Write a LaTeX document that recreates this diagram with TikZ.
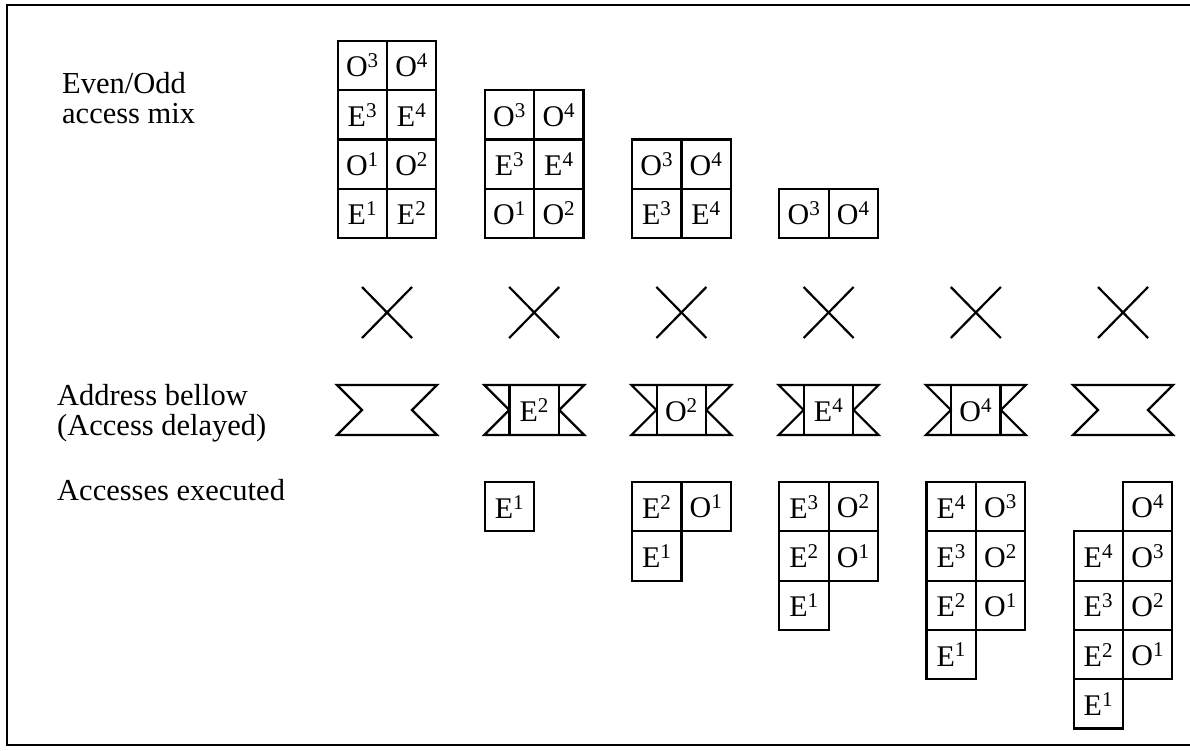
\documentclass[tikz,border=0pt]{standalone}
\usepackage{fontspec}
\setmainfont{Liberation Serif}
\usetikzlibrary{positioning}
\tikzset{cell/.style={draw,line width=2.2pt,minimum width=49.3pt,minimum height=49.3pt,inner sep=0pt,font=\fontsize{30}{32}\selectfont},
  lbl/.style={anchor=north west,align=left,inner sep=0pt,font=\fontsize{30.5}{30}\selectfont},
  bellow/.style={draw,line width=2.2pt,line join=miter},
  cross/.style={line width=2.2pt}}
\newcommand{\acc}[2]{#1\textsuperscript{#2}}

\begin{document}
\begin{tikzpicture}[x=1pt,y=-1pt]
\useasboundingbox (0,0) rectangle (1190,750);
\draw[line width=2.4pt] (1195,5) -- (7,5) -- (7,745) -- (1195,745);
% row labels
\node[lbl] (mix) at (62,72) {Even/Odd\\access mix};
\node[lbl] (bel) at (57,384) {Address bellow\\(Access delayed)};
\node[lbl] (exe) at (57,479) {Accesses executed};
% even/odd access mix
\foreach \c in {1,...,4}{
  \pgfmathsetmacro{\cx}{387+147.2*(\c-1)}
  \foreach \r/\L/\i in {1/E/1,2/O/1,3/E/3,4/O/3}{
    \ifnum\r<\c\relax\else
      \pgfmathtruncatemacro{\j}{\i+1}
      \pgfmathsetmacro{\cy}{238-49.3*(\r-\c)-24.65}
      \node[cell] (mix-\c-\r-a) at (\cx-24.65,\cy) {\acc{\L}{\i}};
      \node[cell] (mix-\c-\r-b) at (\cx+24.65,\cy) {\acc{\L}{\j}};
    \fi
  }
}
% crossings and address bellows
\foreach \c/\L/\i in {1/-/0,2/E/2,3/O/2,4/E/4,5/O/4,6/-/0}{
  \pgfmathsetmacro{\cx}{387+147.2*(\c-1)}
  \draw[cross] (\cx-25,287) -- (\cx+25,338) (\cx-25,338) -- (\cx+25,287);
  \draw[bellow] (\cx-50,385) -- (\cx+50,385) -- (\cx+25,410) -- (\cx+50,435) -- (\cx-50,435) -- (\cx-25,410) -- cycle;
  \ifnum\i>0 \node[cell,minimum height=50pt] (bel-\c) at (\cx,410) {\acc{\L}{\i}};\fi
}
% accesses executed
\foreach \c/\m/\p/\o in {2/1/0/0,3/2/1/0,4/3/2/0,5/4/3/0,6/4/4/1}{
  \pgfmathsetmacro{\cx}{387+147.2*(\c-1)}
  \foreach \k in {1,...,\m}{
    \pgfmathsetmacro{\cy}{482+49.3*(\o+\m-\k)+24.65}
    \node[cell] (exe-\c-e\k) at (\cx-24.65,\cy) {\acc{E}{\k}};
  }
  \ifnum\p>0
  \foreach \k in {1,...,\p}{
    \pgfmathsetmacro{\cy}{482+49.3*(\o+\m-\k-1)+24.65}
    \node[cell] (exe-\c-o\k) at (\cx+24.65,\cy) {\acc{O}{\k}};
  }
  \fi
}
\end{tikzpicture}
\end{document}
